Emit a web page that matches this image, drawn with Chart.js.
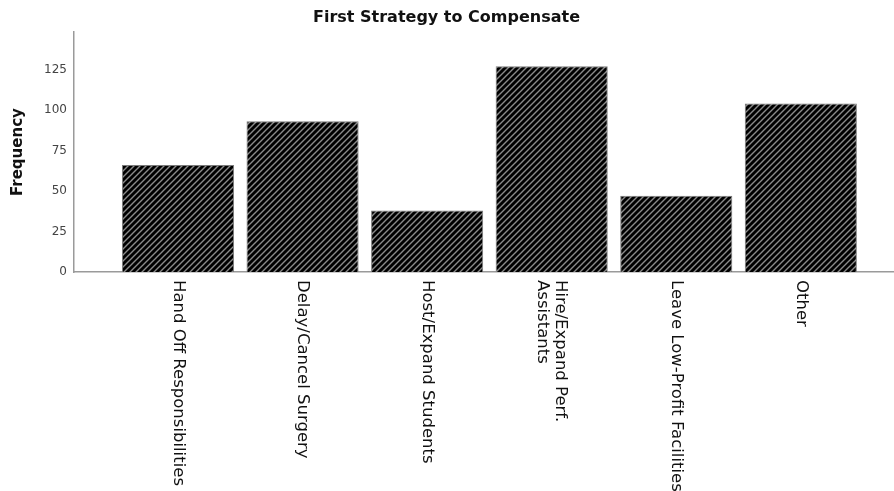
<!DOCTYPE html>
<html>
<head>
<meta charset="utf-8">
<script src="https://cdn.jsdelivr.net/npm/chart.js@4.4.0/dist/chart.umd.min.js"></script>
<style>
  html, body { margin: 0; padding: 0; background: #fff; }
  #wrap { width: 894px; height: 491px; }
</style>
</head>
<body>
<div id="wrap"><canvas id="myChart" width="894" height="491"></canvas></div>
<script>
// data
const categories = ['Hand Off Responsibilities', 'Delay/Cancel Surgery', 'Host/Expand Students',
    'Hire/Expand Perf.\nAssistants', 'Leave Low-Profit Facilities', 'Other'];
const frequencies = [66, 93, 38, 127, 47, 104];
const yMax = 148;
const yStep = 25;

// hatched fill like the SPSS bars
function makeHatch() {
    const c = document.createElement('canvas');
    c.width = 6; c.height = 6;
    const g = c.getContext('2d');
    g.fillStyle = '#000';
    g.fillRect(0, 0, 6, 6);
    g.strokeStyle = '#8a8a8a';
    g.lineWidth = 1.4;
    g.beginPath();
    g.moveTo(-1, 7); g.lineTo(7, -1);
    g.moveTo(-4, 4); g.lineTo(4, -4);
    g.moveTo(2, 10); g.lineTo(10, 2);
    g.stroke();
    return g.createPattern(c, 'repeat');
}

const ctx = document.getElementById('myChart').getContext('2d');
const hatch = makeHatch();

// rotated category labels, reading top to bottom
const xLabels = {
    id: 'xLabels',
    afterDraw(chart) {
        const xs = chart.scales.x;
        const c = chart.ctx;
        c.save();
        c.font = '16.5px "DejaVu Sans"';
        c.fillStyle = '#111';
        c.textAlign = 'left';
        c.textBaseline = 'middle';
        categories.forEach((lab, i) => {
            const lines = lab.split('\n');
            const px = xs.getPixelForValue(i);
            c.save();
            c.translate(px, xs.top + 8);
            c.rotate(Math.PI / 2);
            lines.forEach((ln, j) => {
                c.fillText(ln, 0, (j - (lines.length - 1) / 2) * 18);
            });
            c.restore();
        });
        c.restore();
    }
};

const myChart = new Chart(ctx, {
    type: 'bar',
    data: {
        datasets: [{
            label: 'Frequency',
            data: frequencies.map((v, i) => ({x: i, y: v})),
            backgroundColor: hatch,
            borderColor: '#7a7a7a',
            borderWidth: 1,
            barPercentage: 0.9,
            categoryPercentage: 1.0
        }]
    },
    options: {
        responsive: false,
        animation: false,
        layout: { padding: { left: 0, right: 1, top: 0, bottom: 0 } },
        plugins: {
            legend: { display: false },
            tooltip: { enabled: false },
            title: {
                display: true,
                text: 'First Strategy to Compensate',
                color: '#111',
                font: { family: '"DejaVu Sans"', size: 16, weight: 'bold' },
                padding: { top: 8, bottom: 5 }
            }
        },
        scales: {
            x: {
                type: 'linear',
                offset: false,
                min: -0.835,
                max: 5.74,
                grid: { display: false, drawTicks: false },
                border: { display: true, color: '#9a9a9a', width: 1.5 },
                ticks: { display: false, stepSize: 1, includeBounds: false },
                afterFit(scale) { scale.height = 219; }
            },
            y: {
                min: 0,
                max: yMax,
                grid: { display: false, drawTicks: false },
                border: { display: true, color: '#9a9a9a', width: 1.5 },
                ticks: {
                    stepSize: yStep,
                    includeBounds: false,
                    padding: 7,
                    color: '#444',
                    font: { family: '"DejaVu Sans"', size: 12 }
                },
                title: {
                    display: true,
                    text: 'Frequency',
                    color: '#111',
                    font: { family: '"DejaVu Sans"', size: 15, weight: 'bold' },
                    padding: { top: 9, bottom: 0 }
                },
                afterFit(scale) { scale.width = 74; }
            }
        }
    },
    plugins: [xLabels]
});
</script>
</body>
</html>
